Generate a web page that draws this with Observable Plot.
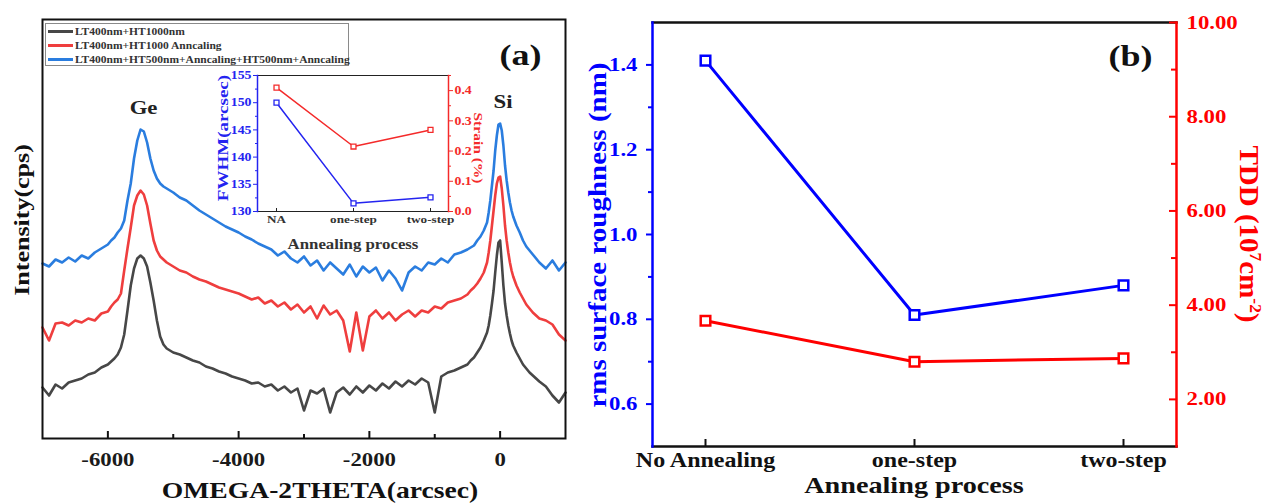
<!DOCTYPE html>
<html><head><meta charset="utf-8">
<script src="https://cdn.jsdelivr.net/npm/d3@7"></script>
<script src="https://cdn.jsdelivr.net/npm/@observablehq/plot@0.6"></script>
<style>
body{margin:0;background:#fff}
#wrap{position:relative;width:1271px;height:504px;overflow:hidden;background:#fff;font-family:"Liberation Serif","Times New Roman",serif;font-weight:bold}
#wrap svg{position:absolute}
.t{position:absolute;white-space:nowrap;font-weight:bold;line-height:1}
.lg{position:absolute;left:45px;top:23px;width:304px;height:43px;border:1px solid #8a8a8a;box-sizing:border-box}
.lr{position:absolute;left:2px;height:14px;display:flex;align-items:center;font-size:9.6px;color:#333;white-space:nowrap}
.lr span.sw{display:inline-block;width:25px;height:3px;margin-right:2px}
.lr span.tx{display:inline-block;transform:scaleX(1.2);transform-origin:left center}
</style></head><body><div id="wrap"></div>
<script>
// ---------- Panel (a): XRD omega-2theta scans ----------
const omega = [-7000,-6900,-6800,-6700,-6600,-6500,-6400,-6300,-6200,-6100,-6000,
-5950,-5900,-5850,-5800,-5750,-5700,-5650,-5600,-5550,-5500,-5450,-5400,-5350,-5300,-5250,-5200,-5150,-5100,
-5000,-4900,-4800,-4700,-4600,-4500,-4400,-4300,-4200,-4100,-4000,-3900,-3800,-3700,-3600,-3500,-3400,-3300,-3200,-3100,-3000,-2900,-2800,-2700,-2600,-2500,-2400,-2300,-2200,-2100,-2000,-1900,-1800,-1700,-1600,-1500,-1400,-1300,-1200,-1100,-1000,-900,-800,-700,-600,
-500,-450,-400,-350,-300,-250,-200,
-175,-150,-125,-100,-75,-50,-25,0,25,50,75,100,125,150,175,
200,250,300,350,400,450,500,
600,700,800,900,1000];
// intensities (a.u., vertically offset traces)
const intBlack = [51,43,54,50,56,58,60,64,66,71,74,
77,80,84,91,104,128,153,170,180,183,180,172,156,138,118,102,94,90,
86,84,81,78,76,72,70,67,65,62,60,58,55,56,52,54,48,52,46,50,28,48,45,50,26,46,51,44,52,46,53,48,55,50,57,52,58,54,60,56,26,62,66,68,71,
74,78,81,86,91,98,106,
113,123,135,148,166,183,196,198,176,153,135,123,113,105,98,
93,86,80,74,70,66,63,
57,52,43,36,46];
const intRed = [111,98,115,116,113,118,116,120,118,125,127,
132,136,139,145,168,190,211,233,243,248,244,233,215,198,188,182,179,176,
172,168,166,162,159,157,154,151,149,147,145,142,139,141,135,138,132,136,129,134,126,132,120,133,124,128,118,87,126,88,122,128,120,126,118,124,128,122,128,126,132,130,136,138,140,
144,148,151,155,160,166,176,
186,198,213,228,243,255,261,262,250,233,213,198,186,176,168,
162,153,146,140,134,130,126,
120,118,114,104,98];
const intBlue = [175,172,179,176,181,177,183,180,186,190,194,
198,201,206,210,218,238,255,280,298,309,307,296,280,268,260,255,252,250,
246,241,238,233,228,224,220,216,212,209,206,202,199,195,192,189,183,187,180,176,182,173,178,168,176,170,164,174,162,172,166,171,158,168,160,148,166,172,168,176,174,180,176,184,186,
189,191,193,198,202,208,216,
226,238,253,268,288,303,314,315,308,293,273,258,246,236,228,
222,213,206,198,192,188,184,
176,170,178,168,176];
const seriesNames = ["LT400nm+HT1000nm","LT400nm+HT1000 Anncaling","LT400nm+HT500nm+Anncaling+HT500nm+Anncaling"];
const seriesColors = ["#474747","#ef3e3e","#2a7ddf"];
const omegaTicks = [-6000,-4000,-2000,0];
const omegaMinor = [-5000,-3000,-1000];
const peakNames = ["Ge","Si"];
const peakPos = [-5500,0];

// inset
const insetSteps = ["NA","one-step","two-step"];
const fwhm = [150,131.5,132.6];
const strain = [0.41,0.215,0.27];
const fwhmTicks = [130,135,140,145,150,155];
const strainTicks = [0,0.1,0.2,0.3,0.4];

// ---------- Panel (b) ----------
const processes = ["No Annealing","one-step","two-step"];
const roughness = [1.41,0.81,0.88];
const tdd = [3.67,2.80,2.87];
const roughTicks = [0.6,0.8,1.0,1.2,1.4];
const roughMinor = [0.7,0.9,1.1,1.3];
const tddTicks = [2,4,6,8,10];
const tddMinor = [3,5,7,9];

const SX = 1.2; // horizontal glyph stretch of the reference typeface
const wrap = document.getElementById("wrap");
const baseStyle = {fontFamily:"Liberation Serif, Times New Roman, serif", fontWeight:"bold", background:"transparent", overflow:"visible"};
function stretchText(svg){
  svg.querySelectorAll("text").forEach(t=>{
    let pre = "";
    const xa = t.getAttribute("x"), ya = t.getAttribute("y");
    const xn = xa!==null && !isNaN(+xa), yn = ya!==null && !isNaN(+ya);
    if (xn || yn) {
      pre = `translate(${xn ? +xa : 0},${yn ? +ya : 0})`;
      if (xn) t.removeAttribute("x");
      if (yn) t.removeAttribute("y");
    }
    const tr = t.getAttribute("transform")||"";
    t.setAttribute("transform", `${tr} ${pre} scale(${SX},1)`.trim());
  });
}
function place(svg, left, top){ stretchText(svg); svg.style.left = left+"px"; svg.style.top = top+"px"; wrap.appendChild(svg); }
function label(html, cx, cy, size, color, rot, squeeze){
  const d = document.createElement("div");
  d.className = "t"; d.innerHTML = html;
  d.style.left = cx+"px"; d.style.top = cy+"px"; d.style.fontSize = size+"px"; d.style.color = color;
  d.style.transform = "translate(-50%,-50%)" + (rot ? ` rotate(${rot}deg) scale(1,${squeeze||1})` : ` scale(${SX},1)`);
  wrap.appendChild(d);
}

// main panel a
const traces = [intBlack, intRed, intBlue];
const peakLabels = peakNames.map((n,i)=>({label:n, x:peakPos[i], y:intBlue[omega.indexOf(peakPos[i])]}));
const pa = Plot.plot({
  width:580, height:504, marginLeft:42, marginRight:15, marginTop:19, marginBottom:66,
  style: baseStyle,
  x:{domain:[-7000,1000]}, y:{domain:[0,419], axis:null},
  marks:[
    ...traces.map((s,k)=>Plot.line(s,{x:(d,i)=>omega[i], y:d=>d, stroke:seriesColors[k], strokeWidth:2.6})),
    Plot.ruleX(omegaTicks,{x:d=>d, insetTop:412, stroke:"#111", strokeWidth:2}),
    Plot.ruleX(omegaMinor,{x:d=>d, insetTop:415, stroke:"#111", strokeWidth:2}),
    Plot.axisX({ticks:omegaTicks, tickFormat:d=>String(d), tickSize:0, tickPadding:14, fontSize:19, fill:"#1a1a1a", label:null}),
    Plot.frame({stroke:"#111", strokeWidth:2}),
    Plot.text(peakLabels,{x:"x", y:"y", text:"label", dx:3, dy:-22, fontSize:19, fill:"#222"}),
    Plot.text(["(a)"],{frameAnchor:"top-right", dx:-24, dy:24, fontSize:30, fill:"#111"})
  ]
});
place(pa,0,0);

// inset (FWHM, left axis)
const insetGeom = {width:310, height:200, marginLeft:67, marginRight:52, marginTop:15, marginBottom:49};
const insetBlue = "#2424f0", insetRed = "#f42a2a";
const inA = Plot.plot({
  ...insetGeom, style: baseStyle,
  x:{type:"point", domain:insetSteps, padding:0.24},
  y:{domain:[130,155]},
  marks:[
    Plot.frame({anchor:"top", stroke:"#222", strokeWidth:1.2}),
    Plot.frame({anchor:"bottom", stroke:"#222", strokeWidth:1.2}),
    Plot.frame({anchor:"left", stroke:insetBlue, strokeWidth:1.5}),
    Plot.ruleX(insetSteps,{x:d=>d, insetTop:133, stroke:"#222"}),
    Plot.axisX({tickSize:0, tickPadding:4, fontSize:11, fill:"#333", label:null}),
    Plot.axisY({ticks:fwhmTicks, tickSize:4, tickPadding:2, fontSize:11.5, color:insetBlue, label:null}),
    Plot.axisY({ticks:[132.5,137.5,142.5,147.5,152.5], tickSize:2, text:null, color:insetBlue, label:null}),
    Plot.line(fwhm,{x:(d,i)=>insetSteps[i], y:d=>d, stroke:insetBlue, strokeWidth:1.5}),
    Plot.dot(fwhm,{x:(d,i)=>insetSteps[i], y:d=>d, symbol:"square", r:2.8, fill:"white", stroke:insetBlue, strokeWidth:1.3})
  ]
});
place(inA,190,60);
// inset (strain, right axis)
const inB = Plot.plot({
  ...insetGeom, style: baseStyle,
  x:{type:"point", domain:insetSteps, padding:0.24, axis:null},
  y:{domain:[0,0.45], axis:null},
  marks:[
    Plot.frame({anchor:"right", stroke:insetRed, strokeWidth:1.5}),
    Plot.axisY({anchor:"right", ticks:strainTicks, tickFormat:d3.format(".1f"), tickSize:4, tickPadding:2, fontSize:11.5, color:insetRed, label:null}),
    Plot.axisY({anchor:"right", ticks:[0.05,0.15,0.25,0.35,0.45], tickSize:2, text:null, color:insetRed, label:null}),
    Plot.line(strain,{x:(d,i)=>insetSteps[i], y:d=>d, stroke:insetRed, strokeWidth:1.5}),
    Plot.dot(strain,{x:(d,i)=>insetSteps[i], y:d=>d, symbol:"square", r:2.8, fill:"white", stroke:insetRed, strokeWidth:1.3})
  ]
});
place(inB,190,60);

// panel b left (roughness)
const bGeom = {width:691, height:504, marginLeft:72, marginRight:95, marginTop:22, marginBottom:58};
const bBlue = "#0000ff", bRed = "#ff0000";
const pb1 = Plot.plot({
  ...bGeom, style: baseStyle,
  x:{type:"point", domain:processes, padding:0.25},
  y:{domain:[0.5,1.5]},
  marks:[
    Plot.frame({anchor:"top", stroke:"#111", strokeWidth:2.5}),
    Plot.frame({anchor:"bottom", stroke:"#111", strokeWidth:2.5}),
    Plot.frame({anchor:"left", stroke:bBlue, strokeWidth:2.5}),
    Plot.ruleX(processes,{x:d=>d, insetTop:417, stroke:"#111", strokeWidth:2}),
    Plot.axisX({tickSize:0, tickPadding:6, fontSize:20, fill:"#111", label:null}),
    Plot.axisY({ticks:roughTicks, tickFormat:d3.format(".1f"), tickSize:6, tickPadding:9, fontSize:19, color:bBlue, strokeWidth:2, label:null}),
    Plot.axisY({ticks:roughMinor, tickSize:4, text:null, color:bBlue, strokeWidth:2, label:null}),
    Plot.line(roughness,{x:(d,i)=>processes[i], y:d=>d, stroke:bBlue, strokeWidth:3}),
    Plot.dot(roughness,{x:(d,i)=>processes[i], y:d=>d, symbol:"square", r:5.4, fill:"white", stroke:bBlue, strokeWidth:2.5}),
    Plot.text(["(b)"],{frameAnchor:"top-right", dx:-24, dy:22, fontSize:30, fill:"#111"})
  ]
});
place(pb1,580,0);
// panel b right (TDD)
const pb2 = Plot.plot({
  ...bGeom, style: baseStyle,
  x:{type:"point", domain:processes, padding:0.25, axis:null},
  y:{domain:[1,10], axis:null},
  marks:[
    Plot.frame({anchor:"right", stroke:bRed, strokeWidth:2.5}),
    Plot.ruleY(tddTicks,{y:d=>d, insetLeft:517, stroke:bRed, strokeWidth:2}),
    Plot.ruleY(tddMinor,{y:d=>d, insetLeft:519, stroke:bRed, strokeWidth:2}),
    Plot.axisY({anchor:"right", ticks:tddTicks, tickFormat:d3.format(".2f"), tickSize:0, tickPadding:10, fontSize:19, color:bRed, label:null}),
    Plot.line(tdd,{x:(d,i)=>processes[i], y:d=>d, stroke:bRed, strokeWidth:3}),
    Plot.dot(tdd,{x:(d,i)=>processes[i], y:d=>d, symbol:"square", r:5.4, fill:"white", stroke:bRed, strokeWidth:2.5})
  ]
});
place(pb2,580,0);

// legend (panel a)
const lg = document.createElement("div"); lg.className = "lg";
seriesNames.forEach((n,k)=>{
  const r = document.createElement("div"); r.className = "lr"; r.style.top = (k*14)+"px";
  r.innerHTML = `<span class="sw" style="background:${seriesColors[k]}"></span><span class="tx">${n}</span>`;
  lg.appendChild(r);
});
wrap.appendChild(lg);

// axis titles
label("OMEGA-2THETA(arcsec)", 320, 490, 23, "#111", 0);
label("Intensity(cps)", 22, 220, 26, "#111", -90, 0.82);
label("FWHM(arcsec)", 223, 138, 19, insetBlue, -90, 0.8);
label("Strain (%)", 478, 148, 15.5, insetRed, 90, 0.85);
label("Annealing process", 353, 245, 14, "#333", 0);
label("Annealing process", 914, 486, 23.5, "#111", 0);
label("rms surface roughness (nm)", 598, 235, 29, bBlue, -90, 0.85);
label("TDD (10<sup style='font-size:0.6em'>7</sup>cm<sup style='font-size:0.6em'>-2</sup>)", 1249, 234, 29, bRed, 90, 0.95);
</script></body></html>
